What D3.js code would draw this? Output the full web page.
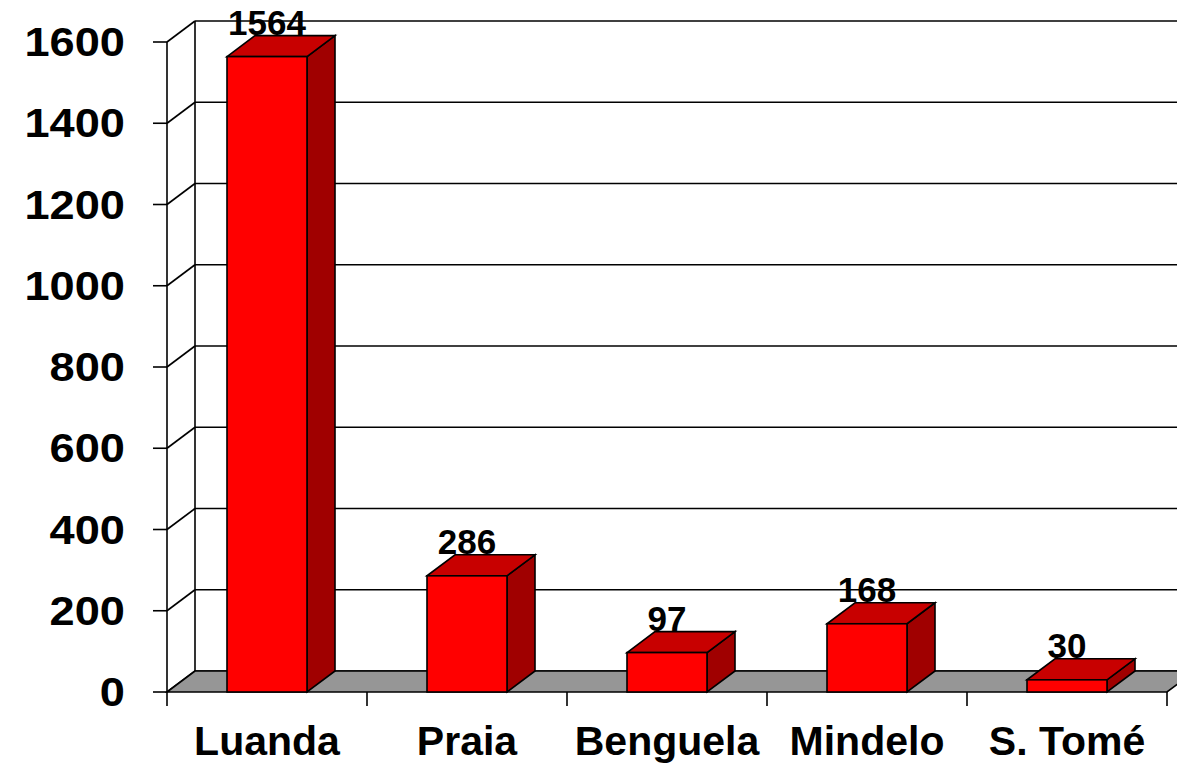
<!DOCTYPE html>
<html>
<head>
<meta charset="utf-8">
<script src="https://cdn.jsdelivr.net/npm/d3@7"></script>
<style>
  html, body { margin: 0; padding: 0; background: #fff; }
  svg { display: block; }
</style>
</head>
<body>
<svg id="chart" width="1177" height="767"></svg>
<script>
const categories = ["Luanda", "Praia", "Benguela", "Mindelo", "S. Tomé"];
const values = [1564, 286, 97, 168, 30];
const yTicks = [0, 200, 400, 600, 800, 1000, 1200, 1400, 1600];

const svg = d3.select("#chart");
const plotLeft = 167, plotRight = 1167, plotBottom = 692, plotTop = 42;
const dx = 28, dy = -21;

const x = d3.scaleBand().domain(categories).range([plotLeft, plotRight])
  .paddingInner(0.6).paddingOuter(0.3);
const y = d3.scaleLinear().domain([0, 1600]).range([plotBottom, plotTop]);

const line = (x1, y1, x2, y2, g) => g.append("line")
  .attr("x1", x1).attr("y1", y1).attr("x2", x2).attr("y2", y2)
  .attr("stroke", "#000").attr("stroke-width", 1.6);

const bg = svg.append("g");
// back wall gridlines and left wall diagonals
yTicks.forEach(t => {
  line(plotLeft + dx, y(t) + dy, plotRight + dx + 20, y(t) + dy, bg);
  line(plotLeft, y(t), plotLeft + dx, y(t) + dy, bg);
});
line(plotLeft + dx, y(1600) + dy, plotLeft + dx, y(0) + dy, bg);
// floor
bg.append("polygon")
  .attr("points", [[plotLeft, plotBottom], [plotRight, plotBottom], [plotRight + dx, plotBottom + dy], [plotLeft + dx, plotBottom + dy]].map(p => p.join(",")).join(" "))
  .attr("fill", "#969696").attr("stroke", "#000").attr("stroke-width", 1.6);
line(plotLeft, y(1600), plotLeft, y(0), bg);

// y ticks & labels
yTicks.forEach(t => {
  line(plotLeft - 14, y(t), plotLeft, y(t), bg);
  bg.append("text")
    .attr("font-family", "Liberation Sans, Arial, sans-serif")
    .attr("font-weight", "bold").attr("font-size", 40)
    .attr("text-anchor", "end").attr("dominant-baseline", "central")
    .attr("transform", `translate(125,${y(t)}) scale(1.13,1)`)
    .text(t);
});
// category ticks
d3.range(categories.length + 1).forEach(i => {
  const xx = plotLeft + i * x.step();
  line(xx, plotBottom, xx, plotBottom + 14, bg);
});
// category labels
categories.forEach(c => {
  bg.append("text")
    .attr("x", x(c) + x.bandwidth() / 2).attr("y", 755)
    .attr("font-family", "Liberation Sans, Arial, sans-serif")
    .attr("font-weight", "bold").attr("font-size", 41)
    .attr("text-anchor", "middle").text(c);
});

// bars
const bars = svg.append("g");
categories.forEach((c, i) => {
  const v = values[i];
  const x0 = x(c), x1 = x(c) + x.bandwidth();
  const yt = y(v), yb = y(0);
  const pts = a => a.map(p => p.join(",")).join(" ");
  bars.append("polygon")
    .attr("points", pts([[x1, yt], [x1 + dx, yt + dy], [x1 + dx, yb + dy], [x1, yb]]))
    .attr("fill", "#a00000").attr("stroke", "#000").attr("stroke-width", 1.6);
  bars.append("polygon")
    .attr("points", pts([[x0, yt], [x1, yt], [x1 + dx, yt + dy], [x0 + dx, yt + dy]]))
    .attr("fill", "#c80000").attr("stroke", "#000").attr("stroke-width", 1.6);
  bars.append("rect")
    .attr("x", x0).attr("y", yt).attr("width", x.bandwidth()).attr("height", yb - yt)
    .attr("fill", "#ff0000").attr("stroke", "#000").attr("stroke-width", 1.6);
  bars.append("text")
    .attr("x", (x0 + x1) / 2).attr("y", yt + dy - 1)
    .attr("font-family", "Liberation Sans, Arial, sans-serif")
    .attr("font-weight", "bold").attr("font-size", 35)
    .attr("text-anchor", "middle").text(v);
});
</script>
</body>
</html>
